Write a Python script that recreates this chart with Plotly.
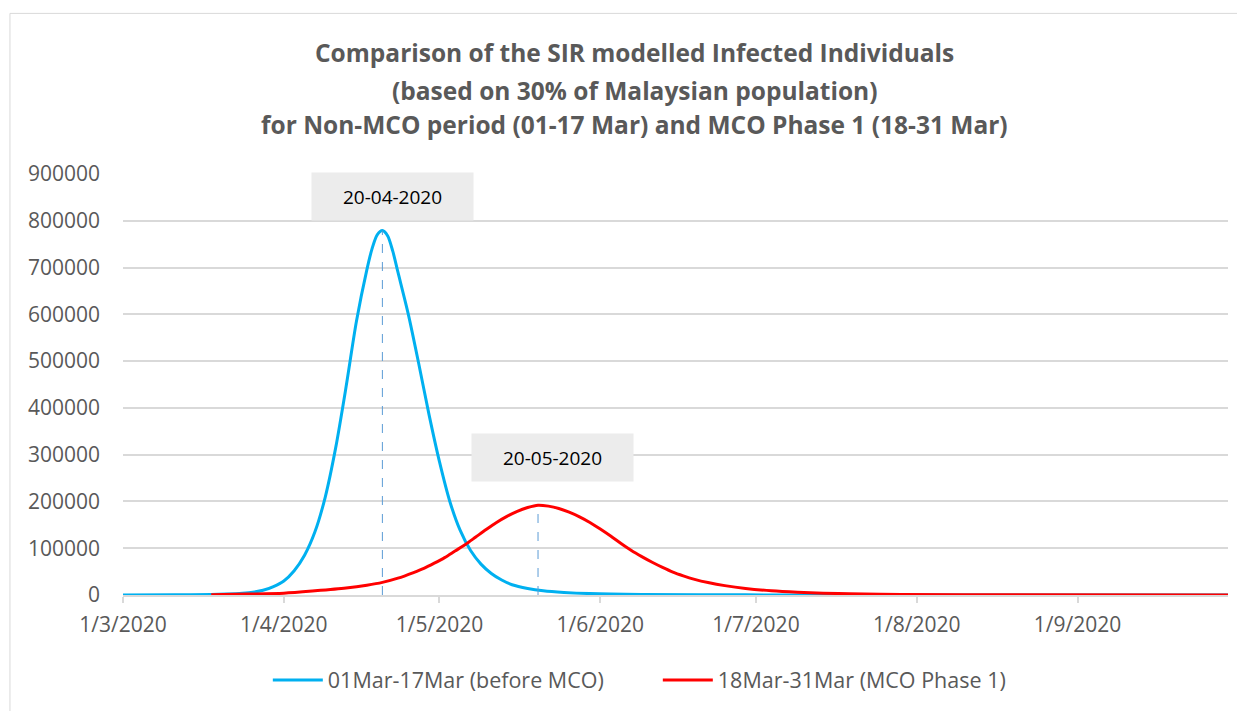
import pandas as pd
import plotly.graph_objects as go

# values
blue_dates = ['2020-03-01', '2020-03-11', '2020-03-18', '2020-03-21', '2020-03-24', '2020-03-26',
              '2020-03-28', '2020-03-30', '2020-04-01', '2020-04-03', '2020-04-05', '2020-04-07',
              '2020-04-09', '2020-04-11', '2020-04-13', '2020-04-15', '2020-04-17', '2020-04-18',
              '2020-04-19', '2020-04-20', '2020-04-21', '2020-04-22', '2020-04-23', '2020-04-25',
              '2020-04-27', '2020-04-29', '2020-05-01', '2020-05-03', '2020-05-05', '2020-05-07',
              '2020-05-09', '2020-05-11', '2020-05-13', '2020-05-15', '2020-05-18', '2020-05-21',
              '2020-05-25', '2020-05-30', '2020-06-09', '2020-06-29', '2020-07-29', '2020-09-30']
blue_vals = [0, 300, 1000, 2200, 4000, 6000,
             10000, 18000, 30000, 52000, 85000, 135000,
             210000, 315000, 445000, 585000, 695000, 740000,
             770000, 779000, 768000, 735000, 690000, 600000,
             495000, 385000, 285000, 200000, 138000, 95000,
             66000, 46000, 32000, 22000, 14000, 9000,
             5500, 3000, 1200, 300, 50, 0]

red_dates = ['2020-03-18', '2020-03-25', '2020-04-01', '2020-04-07', '2020-04-13', '2020-04-17',
             '2020-04-20', '2020-04-23', '2020-04-26', '2020-04-28', '2020-04-30', '2020-05-02',
             '2020-05-04', '2020-05-06', '2020-05-08', '2020-05-10', '2020-05-12', '2020-05-14',
             '2020-05-16', '2020-05-18', '2020-05-20', '2020-05-22', '2020-05-24', '2020-05-26',
             '2020-05-28', '2020-05-30', '2020-06-01', '2020-06-03', '2020-06-05', '2020-06-07',
             '2020-06-09', '2020-06-11', '2020-06-13', '2020-06-15', '2020-06-17', '2020-06-19',
             '2020-06-22', '2020-06-25', '2020-06-29', '2020-07-04', '2020-07-09', '2020-07-14',
             '2020-07-19', '2020-07-29', '2020-08-18', '2020-09-30']
red_vals = [500, 2000, 4000, 9000, 15000, 21000,
            27000, 36000, 48000, 57000, 68000, 80000,
            94000, 108000, 124000, 140000, 155000, 168000,
            179000, 187000, 192000, 190000, 185000, 177000,
            167000, 155000, 141000, 126000, 110000, 95000,
            82000, 70000, 59000, 49000, 41000, 34000,
            26000, 20000, 14000, 9000, 6000, 4000,
            2500, 1000, 300, 50]

month_ticks = ['2020-03-01', '2020-04-01', '2020-05-01', '2020-06-01',
               '2020-07-01', '2020-08-01', '2020-09-01']

title_lines = ['Comparison of the SIR modelled Infected Individuals',
               '(based on 30% of Malaysian population)',
               'for Non-MCO period (01-17 Mar) and MCO Phase 1 (18-31 Mar)']

blue_name = '01Mar-17Mar (before MCO)'
red_name = '18Mar-31Mar (MCO Phase 1)'

grey = '#595959'
font = 'Open Sans'

blue = pd.Series(blue_vals, index=pd.to_datetime(blue_dates))
red = pd.Series(red_vals, index=pd.to_datetime(red_dates))

fig = go.Figure()
fig.add_trace(go.Scatter(x=blue.index, y=blue.values, name=blue_name, mode='lines',
                         line=dict(color='#00b0f0', width=3, shape='spline', smoothing=0.8)))
fig.add_trace(go.Scatter(x=red.index, y=red.values, name=red_name, mode='lines',
                         line=dict(color='#ff0000', width=3, shape='spline', smoothing=0.8)))

# dashed drop lines at each peak, with date label boxes
label_pos = [(0.2439, 0.9467), (0.3887, 0.3258)]
for s, (lx, ly) in zip([blue, red], label_pos):
    peak_day = s.idxmax()
    fig.add_shape(type='line', xref='x', yref='y', x0=peak_day, x1=peak_day,
                  y0=0, y1=s.max(), line=dict(color='#5b9bd5', width=1, dash='dash'))
    fig.add_annotation(xref='paper', yref='paper', x=lx, y=ly, showarrow=False,
                       text=peak_day.strftime('%d-%m-%Y'), width=161, height=47,
                       borderpad=0, bgcolor='#ececec', xanchor='center', yanchor='middle',
                       font=dict(family=font, size=19, color='#000000'))

for line, yy in zip(title_lines, [1.2894, 1.1993, 1.1164]):
    fig.add_annotation(xref='paper', yref='paper', x=0.4633, y=yy, showarrow=False,
                       text='<b>' + line + '</b>', xanchor='center', yanchor='middle',
                       font=dict(family=font, size=24.5, color=grey))

# outer chart border
fig.add_shape(type='rect', xref='paper', yref='paper', x0=-0.1023, x1=1.03,
              y0=-0.3, y1=1.3815, line=dict(color='#d9d9d9', width=1), layer='below')

fig.update_layout(
    width=1237, height=703,
    margin=dict(l=115, r=17, t=166, b=115),
    paper_bgcolor='white', plot_bgcolor='white',
    font=dict(family=font, size=20, color=grey),
    showlegend=True,
    legend=dict(orientation='h', x=0.484, y=-0.199, xanchor='center', yanchor='middle',
                font=dict(family=font, size=21.5, color=grey), itemwidth=50,
                entrywidth=325, traceorder='normal'),
    xaxis=dict(range=['2020-03-01', '2020-09-30'], tickvals=month_ticks,
               tickformat='%-d/%-m/%Y', showgrid=False, zeroline=False,
               showline=True, linecolor='#d9d9d9', linewidth=2,
               ticks='outside', ticklen=6, tickcolor='#d9d9d9', tickwidth=1.5,
               ticklabelstandoff=4,
               tickfont=dict(family=font, size=21, color=grey)),
    yaxis=dict(range=[0, 900000], dtick=100000, tickformat='d',
               showgrid=True, gridcolor='#d9d9d9', gridwidth=1.5, zeroline=False,
               showline=False, ticks='', ticklabelstandoff=22,
               tickfont=dict(family=font, size=21, color=grey)),
)

fig.write_html('out.html')
